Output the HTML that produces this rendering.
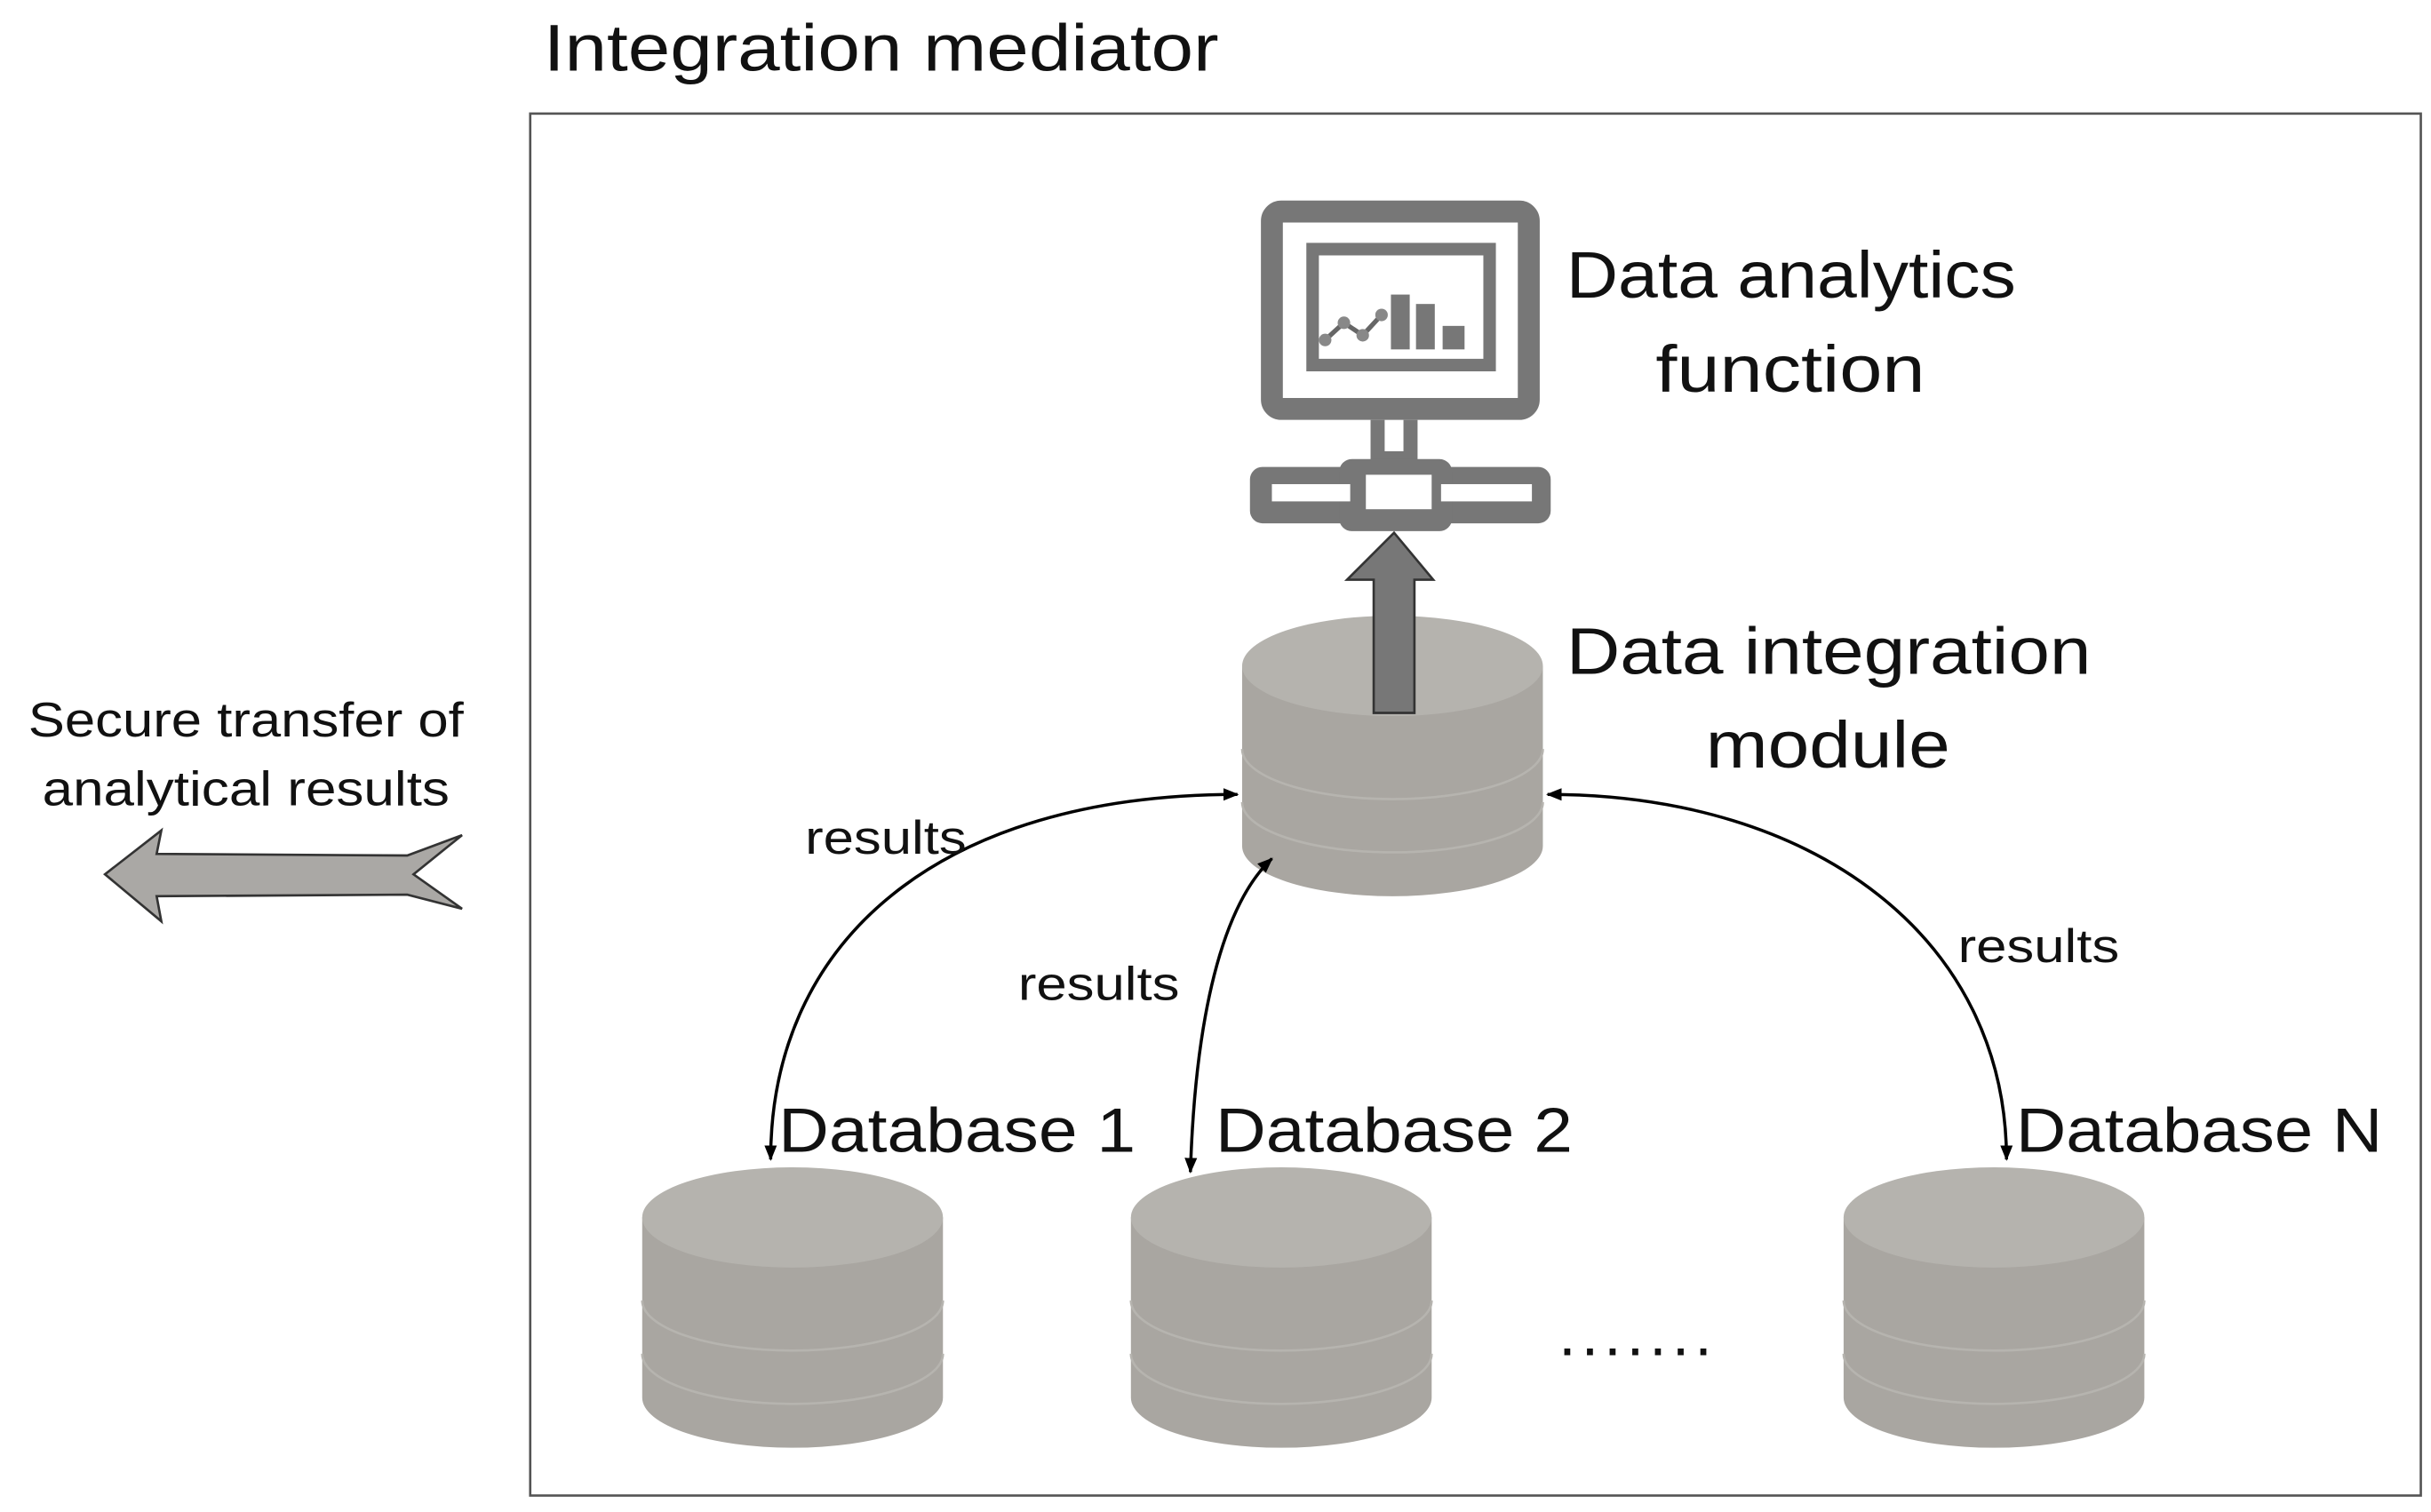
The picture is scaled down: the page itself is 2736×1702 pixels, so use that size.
<!DOCTYPE html>
<html><head><meta charset="utf-8"><style>
html,body{margin:0;padding:0;background:#fff;}
svg{display:block;}
text{font-family:"Liberation Sans",sans-serif;fill:#111;}
</style></head><body>
<svg width="2736" height="1702" viewBox="0 0 1552 965" preserveAspectRatio="none" xmlns="http://www.w3.org/2000/svg">
<defs>
<g id="cyl">
<path d="M0,35 L0,150 A96,32 0 0 0 192,150 L192,35 Z" fill="#a9a6a1"/>
<path d="M0,88 A96,32 0 0 0 192,88" fill="none" stroke="#b6b4af" stroke-width="1.5"/>
<path d="M0,122 A96,32 0 0 0 192,122" fill="none" stroke="#b6b4af" stroke-width="1.5"/>
<ellipse cx="96" cy="35" rx="96" ry="32" fill="#b5b3ae"/>
</g>
<marker id="ah" markerWidth="10" markerHeight="10" refX="9" refY="5" orient="auto-start-reverse" markerUnits="userSpaceOnUse" viewBox="0 0 10 10">
<path d="M0,1 L10,5 L0,9 Z" fill="#000"/>
</marker>
</defs>
<text x="347" y="45" font-size="42" textLength="431" lengthAdjust="spacingAndGlyphs">Integration mediator</text>
<rect x="338.5" y="72.5" width="1207" height="882" fill="none" stroke="#555" stroke-width="1.5"/>

<rect x="812" y="135" width="164" height="126" rx="6" fill="none" stroke="#777" stroke-width="14"/>
<rect x="838" y="159" width="113" height="74" fill="none" stroke="#777" stroke-width="8"/>
<polyline points="846,217 858,206 870,214 882,201" fill="none" stroke="#666" stroke-width="3"/>
<circle cx="846" cy="217" r="4" fill="#888"/><circle cx="858" cy="206" r="4" fill="#888"/><circle cx="870" cy="214" r="4" fill="#888"/><circle cx="882" cy="201" r="4" fill="#888"/>
<rect x="888" y="188" width="12" height="35" fill="#777"/>
<rect x="904" y="194" width="12" height="29" fill="#777"/>
<rect x="921" y="208" width="14" height="15" fill="#777"/>
<rect x="875" y="268" width="30" height="27" fill="#777"/>
<rect x="884" y="268" width="12" height="20" fill="#fff"/>
<rect x="798" y="298" width="192" height="36" rx="8" fill="#777"/>
<rect x="855" y="293" width="72" height="46" rx="8" fill="#777"/>
<rect x="812" y="309" width="50" height="11" fill="#fff"/>
<rect x="872" y="303" width="42" height="22" fill="#fff"/>
<rect x="920" y="309" width="58" height="11" fill="#fff"/>

<use href="#cyl" x="793" y="390"/>
<polygon points="890,340 915,370 903,370 903,455 877,455 877,370 860,370" fill="#777" stroke="#333" stroke-width="1.5"/>

<text x="1000" y="190" font-size="42" textLength="287" lengthAdjust="spacingAndGlyphs">Data analytics</text>
<text x="1057" y="250" font-size="42" textLength="172" lengthAdjust="spacingAndGlyphs">function</text>
<text x="1000" y="430" font-size="42" textLength="335" lengthAdjust="spacingAndGlyphs">Data integration</text>
<text x="1089" y="490" font-size="42" textLength="156" lengthAdjust="spacingAndGlyphs">module</text>

<use href="#cyl" x="410" y="742"/>
<use href="#cyl" x="722" y="742"/>
<use href="#cyl" x="1177" y="742"/>
<text x="497" y="735" font-size="40" textLength="228" lengthAdjust="spacingAndGlyphs">Database 1</text>
<text x="776" y="735" font-size="40" textLength="228" lengthAdjust="spacingAndGlyphs">Database 2</text>
<text x="1287" y="735" font-size="40" textLength="234" lengthAdjust="spacingAndGlyphs">Database N</text>
<text x="995" y="865" font-size="40" textLength="98" lengthAdjust="spacing">.......</text>

<path d="M492,740 C492,600 600,507 790,507" fill="none" stroke="#000" stroke-width="2" marker-start="url(#ah)" marker-end="url(#ah)"/>
<path d="M760,748 C763,650 780,578 812,548" fill="none" stroke="#000" stroke-width="2" marker-start="url(#ah)" marker-end="url(#ah)"/>
<path d="M988,507 C1160,507 1281,600 1281,740" fill="none" stroke="#000" stroke-width="2" marker-start="url(#ah)" marker-end="url(#ah)"/>
<text x="514" y="545" font-size="30" textLength="103" lengthAdjust="spacingAndGlyphs">results</text>
<text x="650" y="638" font-size="30" textLength="103" lengthAdjust="spacingAndGlyphs">results</text>
<text x="1250" y="614" font-size="30" textLength="103" lengthAdjust="spacingAndGlyphs">results</text>

<text x="18" y="470" font-size="31" textLength="278" lengthAdjust="spacingAndGlyphs">Secure transfer of</text>
<text x="27" y="514" font-size="31" textLength="260" lengthAdjust="spacingAndGlyphs">analytical results</text>
<polygon points="67,558 103,530 100,545 260,546 295,533 264,558 295,580 260,571 100,572 103,588" fill="#aaa8a5" stroke="#333" stroke-width="1.5"/>
</svg>
</body></html>
